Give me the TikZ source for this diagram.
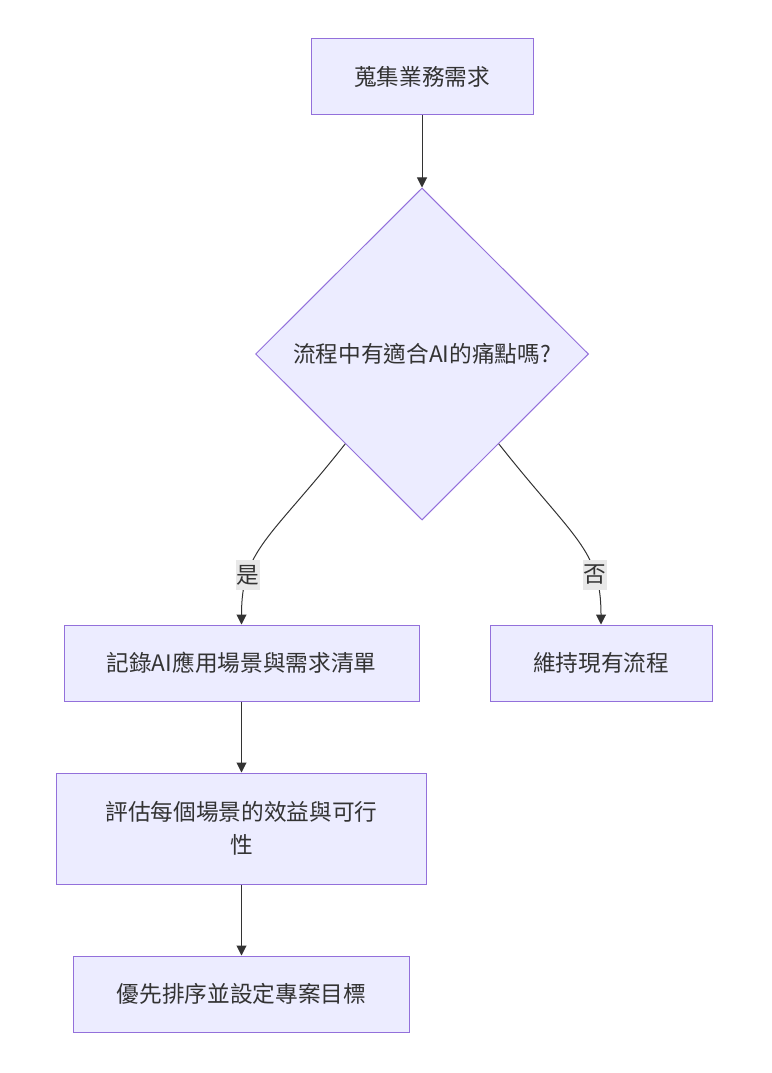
\documentclass[tikz,border=0pt]{standalone}
\usepackage{fontspec}
\setmainfont{Noto Sans CJK TC}
\usepackage{tikz}
\usetikzlibrary{shapes.geometric, arrows.meta, calc, positioning}
\usepackage{xcolor}
\definecolor{nodefill}{HTML}{ECECFF}
\definecolor{nodeborder}{HTML}{9370DB}
\definecolor{edgegray}{HTML}{333333}
\definecolor{lblfill}{HTML}{E8E8E8}

\begin{document}
\begin{tikzpicture}[x=0.75pt, y=-0.75pt]

% TikZ styles
\tikzset{
  process/.style={rectangle, draw=nodeborder, fill=nodefill, line width=0.75pt, text=edgegray, minimum width=166.5pt, minimum height=57pt, align=center, font=\fontsize{17pt}{25pt}\selectfont},
  decision/.style={diamond, draw=nodeborder, fill=nodefill, line width=0.75pt, text=edgegray, minimum width=249.75pt, minimum height=249pt, inner sep=0pt, align=center, font=\fontsize{17pt}{25pt}\selectfont},
  arrow/.style={-{Triangle[length=7.5pt, width=7.5pt]}, draw=edgegray, line width=0.75pt},
  lbl/.style={fill=lblfill, text=edgegray, inner xsep=0.6pt, inner ysep=4pt, font=\fontsize{17pt}{25pt}\selectfont}
}
\useasboundingbox (0,0) rectangle (771,1073);

%==========================
% Nodes
%==========================
\node[process] (collect) at (422,77) {蒐集業務需求};

\node[decision, below=54pt of collect] (haspain) {流程中有適合AI的痛點嗎?};

\node[process, minimum width=266.25pt] (record) at (241.5,663) {記錄AI應用場景與需求清單};

\node[process] (keep) at (601,663) {維持現有流程};

\node[process, minimum width=277.5pt, minimum height=83.25pt, below=53.25pt of record] (assess) {評估每個場景的效益與可行\\性};

\node[process, minimum width=252pt, below=53.25pt of assess] (prioritize) {優先排序並設定專案目標};

\coordinate (yesstart) at ($(haspain.west)!0.54!(haspain.south)$);
\coordinate (nostart) at ($(haspain.east)!0.54!(haspain.south)$);

%==========================
% Pfeile
%==========================
\draw[arrow] (collect.south) -- (haspain.north);

\draw[arrow] (yesstart) .. controls +(-75,95) and +(0,-75) .. node[lbl, pos=0.73] (yes) {是} (record.north);
\draw[arrow] (nostart) .. controls +(75,95) and +(0,-75) .. node[lbl, pos=0.73] (no) {否} (keep.north);

\draw[arrow] (record.south) -- (assess.north);
\draw[arrow] (assess.south) -- (prioritize.north);
\end{tikzpicture}
\end{document}
